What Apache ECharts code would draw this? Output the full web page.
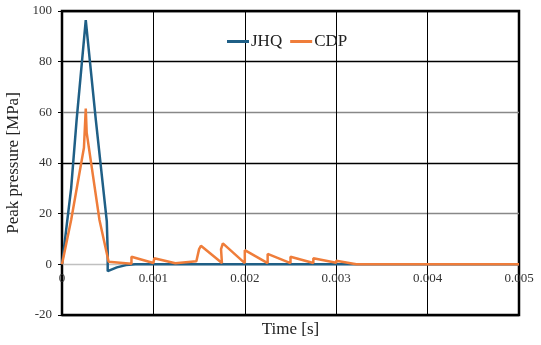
<!DOCTYPE html>
<html><head><meta charset="utf-8">
<script src="https://cdn.jsdelivr.net/npm/echarts@6/dist/echarts.min.js"></script>
<style>html,body{margin:0;padding:0;background:#fff}#c{width:541px;height:345px}</style>
</head><body><div id="c"></div>
<script>
// Time [s]
const jhqTime = [0, 0.0001, 0.00016, 0.00026, 0.00037, 0.00049, 0.0005, 0.0005, 0.0006, 0.0007, 0.0008, 0.005];
const jhqPressure = [0, 30, 57, 96.4, 57, 17, 5, -2.7, -1.2, -0.3, 0, 0];
const cdpTime = [0, 0.0001, 0.00024, 0.00026, 0.00027, 0.00041, 0.00051, 0.00076, 0.00076, 0.001, 0.00101, 0.00124, 0.00126, 0.00147, 0.0015, 0.00152, 0.00175, 0.00174, 0.00176, 0.002, 0.002, 0.00225, 0.00225, 0.0025, 0.0025, 0.00275, 0.00275, 0.003, 0.003, 0.00322, 0.005];
const cdpPressure = [0, 17.5, 46, 61.5, 52, 17.5, 1, 0.2, 3.0, 0.5, 2.4, 0.4, 1.0, 1.2, 6, 7.3, 0.5, 6, 8.3, 0.5, 5.6, 0.5, 4.1, 0.5, 3.0, 0.5, 2.4, 0.6, 1.4, 0, 0];
const yTicks = [-20, 0, 20, 40, 60, 80, 100];
const xTicks = [0, 0.001, 0.002, 0.003, 0.004, 0.005];

const pair = (t, v) => t.map((x, i) => [x, v[i]]);
const serif = '"Liberation Serif","Times New Roman",serif';
const chart = echarts.init(document.getElementById('c'));
chart.setOption({
  animation: false,
  grid: {left: 62, right: 22, top: 11, bottom: 30, containLabel: false, outerBoundsMode: 'none', show: true, borderColor: '#000', borderWidth: 2.5, backgroundColor: 'transparent'},
  legend: {
    top: 28, left: 222, itemWidth: 22, itemHeight: 3, itemGap: 8, icon: 'rect',
    textStyle: {fontFamily: serif, fontSize: 17, color: '#222', padding: [0, 0, 0, -3]},
    data: ['JHQ', 'CDP']
  },
  xAxis: {
    type: 'value', min: xTicks[0], max: xTicks[xTicks.length - 1], interval: 0.001,
    name: 'Time [s]', nameLocation: 'middle', nameGap: 5,
    nameTextStyle: {fontFamily: serif, fontSize: 17, color: '#222'},
    axisLine: {show: false, onZero: false},
    axisTick: {show: false},
    axisLabel: {fontFamily: serif, fontSize: 13, color: '#333', margin: -43, formatter: v => String(+v.toFixed(3))},
    splitLine: {show: true, lineStyle: {color: '#000', width: 1}}
  },
  yAxis: {
    type: 'value', min: yTicks[0], max: yTicks[yTicks.length - 1], interval: 20,
    name: 'Peak pressure [MPa]', nameLocation: 'middle', nameGap: 25,
    nameTextStyle: {fontFamily: serif, fontSize: 17, color: '#222'},
    axisLine: {show: true, onZero: false, lineStyle: {color: '#000', width: 2}},
    axisTick: {show: true, length: 4, lineStyle: {color: '#000'}},
    axisLabel: {fontFamily: serif, fontSize: 13, color: '#333', margin: 10},
    splitLine: {show: true, lineStyle: {color: ['#000', '#c0c0c0', '#888', '#000', '#888', '#000', '#000'], width: 1.3}}
  },
  series: [
    {name: 'JHQ', type: 'line', data: pair(jhqTime, jhqPressure), showSymbol: false, symbol: 'none',
     lineStyle: {color: '#1f5f86', width: 2.5}, itemStyle: {color: '#1f5f86'}, z: 3},
    {name: 'CDP', type: 'line', data: pair(cdpTime, cdpPressure), showSymbol: false, symbol: 'none',
     lineStyle: {color: '#ef7d3a', width: 2.5}, itemStyle: {color: '#ef7d3a'}, z: 4}
  ]
});
</script></body></html>
